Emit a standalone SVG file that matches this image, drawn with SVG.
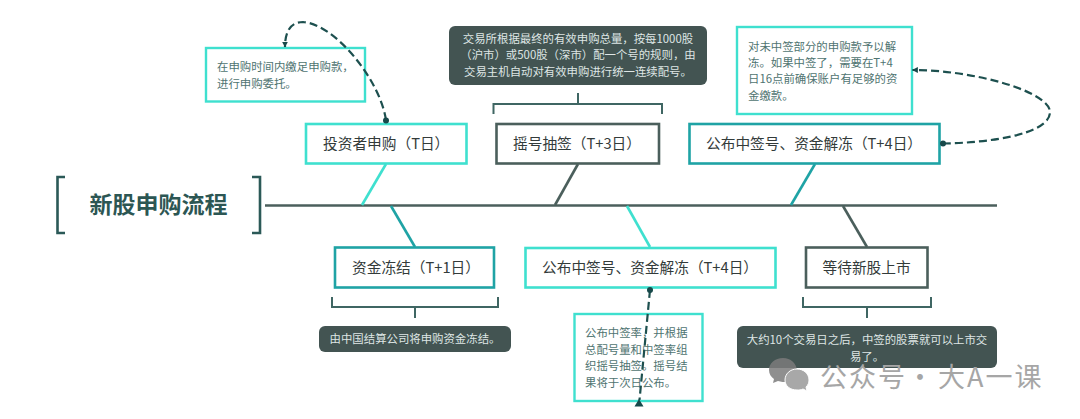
<svg xmlns="http://www.w3.org/2000/svg" width="1080" height="419" viewBox="0 0 1080 419">
<style>
text{font-family:"Noto Sans CJK SC","Noto Sans",sans-serif}
.t{font-size:14.7px;fill:#333b3a}
.n{font-size:11.4px;fill:#4f7471}
.d{font-size:11.4px;fill:#dfe6e5}
.box{fill:#fff;stroke-width:2.6}
.aq{stroke:#3fe0cf}.te{stroke:#1fa3a5}.gr{stroke:#4b5f5c}
.note{fill:#fff;stroke:#3fe0cf;stroke-width:2.4}
.dark{fill:#435452}
.br{fill:none;stroke:#3f6663;stroke-width:2}
.fb{fill:none;stroke-width:2.6}
.dash{fill:none;stroke:#1d504f;stroke-width:2.200;stroke-dasharray:8 4}
.dot{fill:#17494a}
</style>
<defs>
<marker id="arr" viewBox="0 0 10 10" refX="9" refY="5" markerWidth="6" markerHeight="6" markerUnits="userSpaceOnUse" orient="auto"><path d="M0 0L10 5L0 10Z" fill="#17494a"/></marker>
</defs>
<g id="connectors">
<path d="M265 205.500H997" fill="none" stroke="#4b5f5c" stroke-width="2.600"/>
<path class="fb aq" d="M386 164L362 205"/>
<path class="fb gr" d="M578 164L555 205"/>
<path class="fb te" d="M815 164L791 205"/>
<path class="fb te" d="M391 206L415 247"/>
<path class="fb aq" d="M627 206L650 247"/>
<path class="fb gr" d="M843 206L867 247"/>
<path class="br" d="M493.500 114V104H662V114M578 104V93"/>
<path class="br" d="M332 297V307H498V297M415 307V318"/>
<path class="br" d="M803 297V307H931V297M867 307V318"/>
</g>
<g id="title">
<path class="fb" stroke="#2b5957" d="M65 177H57.500V233H65M252 177H260V233H252"/>
<text x="158.500" y="213" text-anchor="middle" font-size="23" font-weight="700" fill="#2c5653">新股申购流程</text>
</g>
<g id="node-invest">
<rect class="box aq" x="306" y="124" width="160.500" height="39.500"/>
<text class="t" x="323" y="149">投资者申购（T日）</text>
</g>
<g id="note-invest">
<rect class="note" x="206" y="48" width="159" height="53.500"/>
<text class="n" x="217" y="71">在申购时间内缴足申购款，</text>
<text class="n" x="217" y="88">进行申购委托。</text>
</g>
<g id="node-lottery">
<rect class="box gr" x="496.500" y="124" width="162.500" height="39.500"/>
<text class="t" x="513" y="149">摇号抽签（T+3日）</text>
</g>
<g id="note-lottery">
<rect class="dark" x="449" y="26" width="258" height="59" rx="6"/>
<text class="d" x="578" y="43" text-anchor="middle">交易所根据最终的有效申购总量，按每1000股</text>
<text class="d" x="578" y="59" text-anchor="middle">（沪市）或500股（深市）配一个号的规则，由</text>
<text class="d" x="578" y="76" text-anchor="middle">交易主机自动对有效申购进行统一连续配号。</text>
</g>
<g id="node-publish-top">
<rect class="box te" x="689.500" y="124" width="250" height="39.500"/>
<text class="t" x="706" y="149">公布中签号、资金解冻（T+4日）</text>
</g>
<g id="note-publish-top">
<rect class="note" x="737" y="27" width="175" height="87"/>
<text class="n" x="748" y="51">对未中签部分的申购款予以解</text>
<text class="n" x="748" y="67">冻。如果中签了，需要在T+4</text>
<text class="n" x="748" y="83">日16点前确保账户有足够的资</text>
<text class="n" x="748" y="100">金缴款。</text>
</g>
<g id="node-freeze">
<rect class="box te" x="335" y="247.500" width="159" height="40"/>
<text class="t" x="352" y="273">资金冻结（T+1日）</text>
</g>
<g id="note-freeze">
<rect class="dark" x="319" y="326" width="192" height="26" rx="6"/>
<text class="d" x="415" y="343" text-anchor="middle">由中国结算公司将申购资金冻结。</text>
</g>
<g id="node-publish-bottom">
<rect class="box aq" x="525.500" y="248" width="250" height="39.500"/>
<text class="t" x="542" y="273">公布中签号、资金解冻（T+4日）</text>
</g>
<g id="note-publish-bottom">
<rect class="note" x="574.500" y="314" width="128" height="87"/>
<text class="n" x="585" y="337">公布中签率，并根据</text>
<text class="n" x="585" y="354">总配号量和中签率组</text>
<text class="n" x="585" y="370">织摇号抽签。摇号结</text>
<text class="n" x="585" y="387">果将于次日公布。</text>
</g>
<g id="node-listing">
<rect class="box gr" x="806" y="247.500" width="121.500" height="40"/>
<text class="t" x="822.500" y="273">等待新股上市</text>
</g>
<g id="note-listing">
<rect class="dark" x="737" y="326" width="260" height="42" rx="6"/>
<text class="d" x="867" y="344" text-anchor="middle">大约10个交易日之后，中签的股票就可以上市交</text>
<text class="d" x="867" y="361" text-anchor="middle">易了。</text>
</g>
<g id="dashed-connectors">
<path class="dash" marker-end="url(#arr)" d="M386 120C380 80 335 24 303 22C289 22 285 34 285 47"/>
<path class="dash" marker-end="url(#arr)" d="M943 143.500C985 143 1050 135 1050 112C1050 92 975 70 912.500 70"/>
<path class="dash" d="M650 290L639.500 400"/>
<path class="dot" d="M639 399L643.500 406.500H634.500Z"/>
<circle class="dot" cx="386" cy="120.500" r="3"/>
<circle class="dot" cx="943" cy="143.500" r="3"/>
<circle class="dot" cx="650" cy="290" r="3"/>
</g>
<g id="watermark">
<path d="M783 358C775 358 769 363 769 370C769 374 771 377 774 379L773 383L778 381C781 382 784 382 787 382L797 370C796 363 791 358 783 358Z" fill="#7b7b7b" opacity="0.85"/>
<path d="M797 369C790 369 785 374 785 380C785 386 790 390 797 390C799 390 801 390 803 389L807 391L806 387C808 385 809 383 809 380C809 374 804 369 797 369Z" fill="#a8a8a8" stroke="#fff" stroke-width="1"/>
<text font-size="27" fill="#a6a6a6" y="387"><tspan x="820" letter-spacing="2">公众号</tspan><tspan x="906.500">·</tspan><tspan x="938" letter-spacing="2">大A一课</tspan></text>
</g>
</svg>
